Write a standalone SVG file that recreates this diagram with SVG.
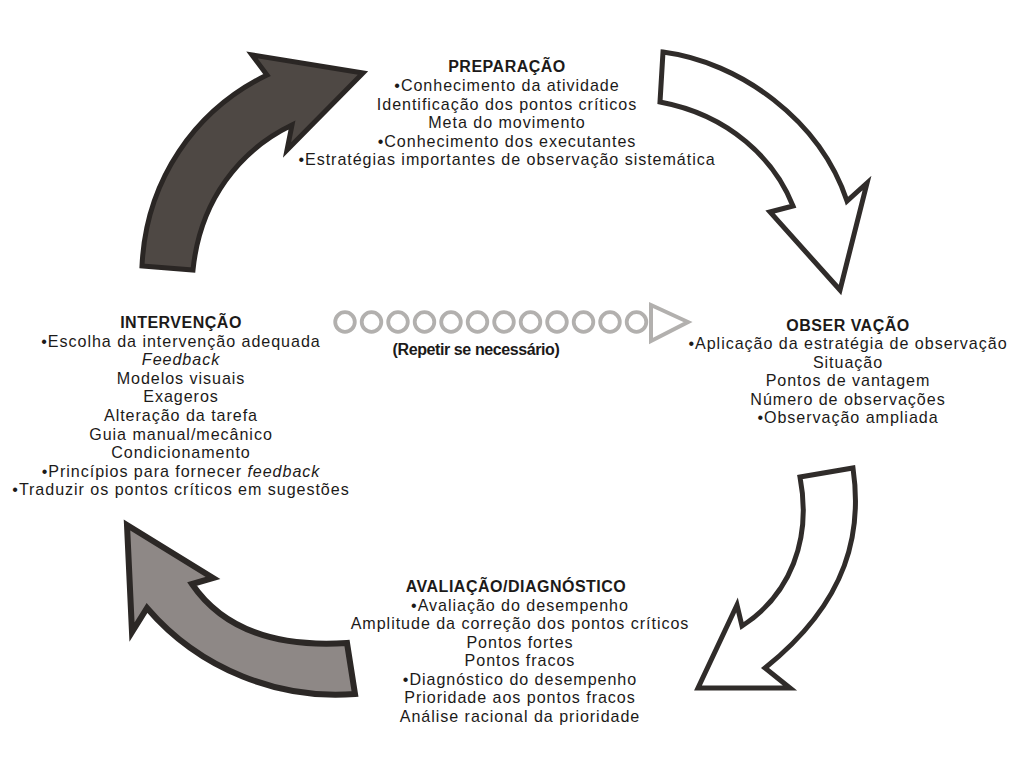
<svg xmlns="http://www.w3.org/2000/svg" width="1015" height="771" viewBox="0 0 1015 771">
<style>
text { font-family: "Liberation Sans", Arial, sans-serif; font-size: 16.1px; letter-spacing: 0.95px; fill: #1c1a19; text-anchor: middle; }
.t { font-weight: bold; font-size: 16px; letter-spacing: 0.5px; }
.r { font-weight: bold; font-size: 16px; letter-spacing: -0.4px; }
.i { font-style: italic; }
.dark { fill: #4e4844; stroke: #2a2624; stroke-width: 5; stroke-linejoin: miter; }
.grey { fill: #8e8886; stroke: #2c2826; stroke-width: 6; stroke-linejoin: miter; }
.white { fill: #ffffff; stroke: #302c2a; stroke-width: 5; stroke-linejoin: miter; }
.ring { fill: none; stroke: #b2b0ae; stroke-width: 3.8; }
</style>
<rect width="1015" height="771" fill="#ffffff"/>
<g id="connectors">
  <path class="dark" d="M 142,266 C 146,180 195,110 267,75 L 252,55 L 363,73 L 287,150 L 292,125 C 240,150 200,200 193,270 Z"/>
  <path class="white" d="M 663,52 C 740,62 820,120 847,201 L 867,183 L 840,290 L 770,212 L 793,206 C 775,160 730,115 660,102 Z"/>
  <path class="white" d="M 800,477 L 853,468 C 862,530 850,600 765,668 L 790,688 L 698,688 L 737,605 L 742,626 C 790,595 812,540 800,477 Z"/>
  <path class="grey" d="M 127,525 L 213,578 L 192,584 C 220,625 270,648 347,643 L 355,694 C 280,700 200,670 147,608 L 132,632 Z"/>
  <g id="repeat-loop">
    <circle class="ring" cx="345" cy="322" r="9.8"/>
    <circle class="ring" cx="371.5" cy="322" r="9.8"/>
    <circle class="ring" cx="398" cy="322" r="9.8"/>
    <circle class="ring" cx="424.5" cy="322" r="9.8"/>
    <circle class="ring" cx="451" cy="322" r="9.8"/>
    <circle class="ring" cx="477.5" cy="322" r="9.8"/>
    <circle class="ring" cx="504" cy="322" r="9.8"/>
    <circle class="ring" cx="530.5" cy="322" r="9.8"/>
    <circle class="ring" cx="557" cy="322" r="9.8"/>
    <circle class="ring" cx="583.5" cy="322" r="9.8"/>
    <circle class="ring" cx="610" cy="322" r="9.8"/>
    <circle class="ring" cx="636.5" cy="322" r="9.8"/>
    <path d="M 651,305 L 688,322 L 651,341 Z" fill="none" stroke="#b2b0ae" stroke-width="4" stroke-linejoin="miter"/>
  </g>
</g>
<g id="node-preparacao">
  <text class="t" x="507" y="72">PREPARAÇÃO</text>
  <text x="507" y="91">•Conhecimento da atividade</text>
  <text x="507" y="109.5">Identificação dos pontos críticos</text>
  <text x="507" y="128">Meta do movimento</text>
  <text x="507" y="146.5">•Conhecimento dos executantes</text>
  <text x="507" y="165">•Estratégias importantes de observação sistemática</text>
</g>
<g id="node-observacao">
  <text class="t" x="848" y="330.5">OBSER VAÇÃO</text>
  <text x="848" y="349">•Aplicação da estratégia de observação</text>
  <text x="848" y="367.5">Situação</text>
  <text x="848" y="386">Pontos de vantagem</text>
  <text x="848" y="404.5">Número de observações</text>
  <text x="848" y="423">•Observação ampliada</text>
</g>
<g id="node-avaliacao">
  <text class="t" x="516" y="592">AVALIAÇÃO/DIAGNÓSTICO</text>
  <text x="520" y="610.5">•Avaliação do desempenho</text>
  <text x="520" y="629">Amplitude da correção dos pontos críticos</text>
  <text x="520" y="647.5">Pontos fortes</text>
  <text x="520" y="666">Pontos fracos</text>
  <text x="520" y="684.5">•Diagnóstico do desempenho</text>
  <text x="520" y="703">Prioridade aos pontos fracos</text>
  <text x="520" y="721.5">Análise racional da prioridade</text>
</g>
<g id="node-intervencao">
  <text class="t" x="181" y="328">INTERVENÇÃO</text>
  <text x="181" y="346.6">•Escolha da intervenção adequada</text>
  <text class="i" x="181" y="365.2">Feedback</text>
  <text x="181" y="383.8">Modelos visuais</text>
  <text x="181" y="402.4">Exageros</text>
  <text x="181" y="421">Alteração da tarefa</text>
  <text x="181" y="439.6">Guia manual/mecânico</text>
  <text x="181" y="458.2">Condicionamento</text>
  <text x="181" y="476.8">•Princípios para fornecer <tspan class="i">feedback</tspan></text>
  <text x="181" y="495.4">•Traduzir os pontos críticos em sugestões</text>
</g>
<g id="node-repetir">
  <text class="r" x="476" y="355">(Repetir se necessário)</text>
</g>
</svg>
